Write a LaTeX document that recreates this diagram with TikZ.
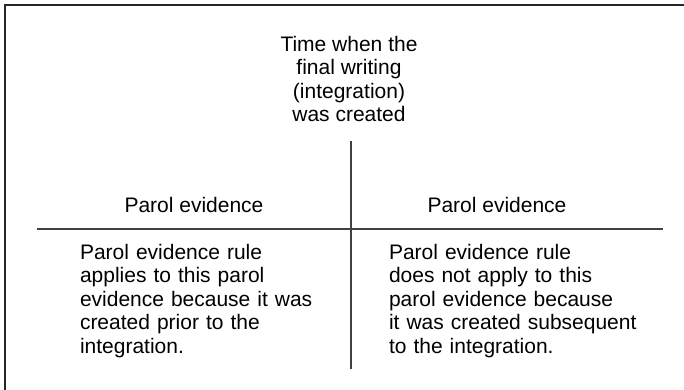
\documentclass[tikz,border=0pt]{standalone}
\usepackage{fontspec}
\setmainfont{Liberation Sans}
\begin{document}
\begin{tikzpicture}[x=1pt,y=-1pt,
  frameline/.style={draw=black!85, line width=2pt},
  divline/.style={draw=black!75, line width=1.6pt},
  txt/.style={inner sep=0pt, outer sep=0pt, font=\fontsize{21}{23.5}\selectfont},
  block/.style={txt, text width=290pt, align=left, anchor=base west}]
\useasboundingbox (0,0) rectangle (684,390);
\coordinate (ftr) at (684,5);
\coordinate (ftl) at (5,5);
\coordinate (fbl) at (5,390);
\draw[frameline] (ftr) -- (ftl) -- (fbl);
\node[txt, align=center, anchor=base] (title) at (349,122)
  {Time when the\\final writing\\(integration)\\was created};
\coordinate (vtop) at (350.7,141);
\coordinate (vbot) at (350.7,369);
\coordinate (hl) at (36.7,228.7);
\coordinate (hr) at (662.7,228.7);
\draw[divline] (vtop) -- (vbot);
\draw[divline] (hl) -- (hr);
\node[txt, anchor=base] (hleft) at (194,212.7) {Parol evidence};
\node[txt, anchor=base] (hright) at (497,212.7) {Parol evidence};
\node[block] (bleft) at (80,259) {Parol evidence rule\\applies to this parol\\evidence because it was\\created prior to the\\integration.};
\node[block] (bright) at (389,259) {Parol evidence rule\\does not apply to this\\parol evidence because\\it was created subsequent\\to the integration.};
\end{tikzpicture}
\end{document}
